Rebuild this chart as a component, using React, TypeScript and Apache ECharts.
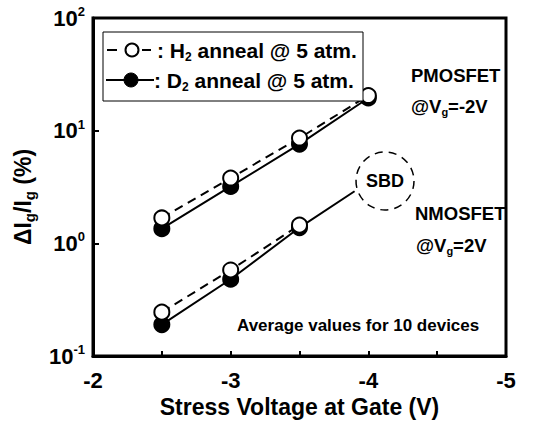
import React, { useEffect, useRef } from "react";
import * as echarts from "echarts";

const stressV = [-2.5, -3, -3.5, -4];
const pmosH2 = [1.68, 3.8, 8.6, 20.5];
const pmosD2 = [1.35, 3.2, 7.6, 19.5];
const nmosV = [-2.5, -3, -3.5];
const nmosH2 = [0.245, 0.58, 1.45];
const nmosD2 = [0.19, 0.48, 1.38];
const nmosD2FitEnd: [number, number] = [-3.9, 2.9];
const xTicks = [-2, -3, -4, -5];

const FONT = "Liberation Sans, Arial, sans-serif";

export default function App() {
  const ref = useRef<HTMLDivElement>(null);
  useEffect(() => {
    if (!ref.current) return;
    const chart = echarts.init(ref.current, undefined, { renderer: "svg" });
    const openSym = { color: "#fff", borderColor: "#000", borderWidth: 2 };
    const fillSym = { color: "#000", borderColor: "#000", borderWidth: 2 };
    const mk = (xs: number[], ys: number[]) => xs.map((x, i) => [x, ys[i]]);
    const subRich = (size: number, sub: number) => ({
      b: { fontFamily: FONT, fontWeight: "bold", fontSize: size, fill: "#000" },
      s: { fontFamily: FONT, fontWeight: "bold", fontSize: sub, fill: "#000", padding: [Math.round(size * 0.65), 0, 0, 0] },
    });
    chart.setOption({
      animation: false,
      backgroundColor: "#fff",
      grid: {
        left: 93,
        right: 50,
        top: 18,
        bottom: 69,
        show: true,
        borderColor: "#000",
        borderWidth: 3,
      },
      xAxis: {
        type: "value",
        min: -5,
        max: -2,
        interval: 0.5,
        inverse: true,
        axisLine: { show: true, lineStyle: { color: "#000", width: 3 } },
        axisTick: { show: true, inside: true, length: 5, lineStyle: { width: 2, color: "#000" } },
        splitLine: { show: false },
        axisLabel: {
          margin: 13,
          fontFamily: FONT,
          fontWeight: "bold",
          fontSize: 22,
          color: "#000",
          formatter: (v: number) => (xTicks.includes(v) ? String(v) : ""),
        },
        name: "Stress Voltage at Gate (V)",
        nameLocation: "middle",
        nameGap: 35,
        nameTextStyle: { fontFamily: FONT, fontWeight: "bold", fontSize: 23, color: "#000" },
      },
      yAxis: {
        type: "log",
        logBase: 10,
        min: 0.1,
        max: 100,
        axisLine: { show: true, lineStyle: { color: "#000", width: 3 } },
        axisTick: { show: true, inside: true, length: 6, lineStyle: { width: 2, color: "#000" } },
        minorTick: { show: false },
        splitLine: { show: false },
        axisLabel: {
          margin: 8,
          formatter: (v: number) => {
            const e = Math.round(Math.log10(v));
            return "{b|10}{s|" + e + "}";
          },
          rich: {
            b: { fontFamily: FONT, fontWeight: "bold", fontSize: 22, color: "#000" },
            s: { fontFamily: FONT, fontWeight: "bold", fontSize: 13, color: "#000", verticalAlign: "top", padding: [0, 0, 13, 0] },
          },
        },
        name: "{b|ΔI}{s|g}{b|/I}{s|g}{b| (%)}",
        nameLocation: "middle",
        nameGap: 56,
        nameTextStyle: {
          padding: [0, 20, 0, 0],
          rich: {
            b: { fontFamily: FONT, fontWeight: "bold", fontSize: 23, color: "#000" },
            s: { fontFamily: FONT, fontWeight: "bold", fontSize: 15, color: "#000", padding: [14, 0, 0, 0] },
          },
        },
      },
      series: [
        {
          type: "line",
          data: mk(stressV, pmosH2),
          symbol: "circle",
          symbolSize: 15,
          itemStyle: openSym,
          lineStyle: { color: "#000", width: 2, type: [9, 6] },
          z: 3,
        },
        {
          type: "line",
          data: mk(stressV, pmosD2),
          symbol: "circle",
          symbolSize: 15,
          itemStyle: fillSym,
          lineStyle: { color: "#000", width: 2 },
          z: 2,
        },
        {
          type: "line",
          data: mk(nmosV, nmosH2),
          symbol: "circle",
          symbolSize: 15,
          itemStyle: openSym,
          lineStyle: { color: "#000", width: 2, type: [9, 6] },
          z: 3,
        },
        {
          type: "line",
          data: [...mk(nmosV, nmosD2), nmosD2FitEnd],
          symbol: "circle",
          symbolSize: (v: number[], p: any) => (p.dataIndex === nmosV.length ? 0 : 15),
          itemStyle: fillSym,
          lineStyle: { color: "#000", width: 2 },
          z: 2,
        },
      ],
      graphic: [
        {
          type: "rect",
          shape: { x: 103, y: 32, width: 260, height: 69 },
          style: { fill: "#fff", stroke: "#000", lineWidth: 1 },
          z: 10,
        },
        { type: "line", shape: { x1: 107, y1: 50, x2: 117, y2: 50 }, style: { stroke: "#000", lineWidth: 2 }, z: 11 },
        { type: "circle", shape: { cx: 132, cy: 50, r: 6.5 }, style: { fill: "#fff", stroke: "#000", lineWidth: 2 }, z: 11 },
        { type: "line", shape: { x1: 142, y1: 50, x2: 151, y2: 50 }, style: { stroke: "#000", lineWidth: 2 }, z: 11 },
        {
          type: "text",
          x: 157,
          y: 50,
          z: 11,
          style: { text: "{b|: H}{s|2}{b| anneal @ 5 atm.}", verticalAlign: "middle", rich: subRich(21, 12) },
        },
        { type: "line", shape: { x1: 106, y1: 80, x2: 154, y2: 80 }, style: { stroke: "#000", lineWidth: 2 }, z: 11 },
        { type: "circle", shape: { cx: 131, cy: 80, r: 7 }, style: { fill: "#000", stroke: "#000", lineWidth: 1 }, z: 12 },
        {
          type: "text",
          x: 154,
          y: 80,
          z: 11,
          style: { text: "{b|: D}{s|2}{b| anneal @ 5 atm.}", verticalAlign: "middle", rich: subRich(21, 12) },
        },
        {
          type: "text",
          x: 411,
          y: 75,
          z: 11,
          style: { text: "PMOSFET", verticalAlign: "middle", font: "bold 18.5px " + FONT, fill: "#000" },
        },
        {
          type: "text",
          x: 411,
          y: 106,
          z: 11,
          style: { text: "{b|@V}{s|g}{b|=-2V}", verticalAlign: "middle", rich: subRich(18.5, 11) },
        },
        {
          type: "text",
          x: 415,
          y: 213,
          z: 11,
          style: { text: "NMOSFET", verticalAlign: "middle", font: "bold 18.5px " + FONT, fill: "#000" },
        },
        {
          type: "text",
          x: 416,
          y: 245,
          z: 11,
          style: { text: "{b|@V}{s|g}{b|=2V}", verticalAlign: "middle", rich: subRich(18.5, 11) },
        },
        {
          type: "circle",
          shape: { cx: 385, cy: 181, r: 29 },
          style: { fill: "none", stroke: "#000", lineWidth: 1.5, lineDash: [8, 6] },
          z: 11,
        },
        {
          type: "text",
          x: 385,
          y: 181,
          z: 11,
          style: { text: "SBD", align: "center", verticalAlign: "middle", font: "bold 18px " + FONT, fill: "#000" },
        },
        {
          type: "text",
          x: 237,
          y: 325,
          z: 11,
          style: { text: "Average values for 10 devices", verticalAlign: "middle", font: "bold 17px " + FONT, fill: "#000" },
        },
      ],
    });
    return () => chart.dispose();
  }, []);
  return <div ref={ref} style={{ width: 556, height: 425, position: "absolute", left: 0, top: 0 }} />;
}
